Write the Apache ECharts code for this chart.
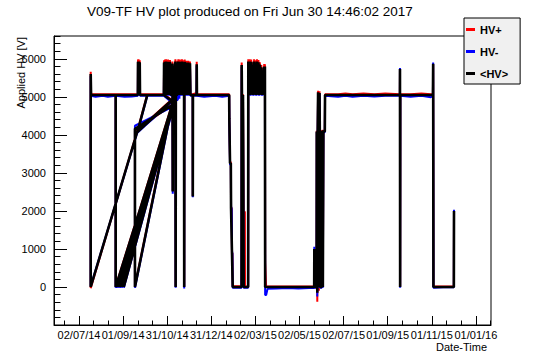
<!DOCTYPE html>
<html>
<head>
<meta charset="utf-8">
<script src="https://cdn.jsdelivr.net/npm/echarts@6/dist/echarts.min.js"></script>
<style>
html,body{margin:0;padding:0;background:#fff;}
#chart{width:546px;height:362px;}
</style>
</head>
<body>
<div id="chart"></div>
<script>
// ---- text ----
const titleText = 'V09-TF HV plot produced on Fri Jun 30 14:46:02 2017';
const xAxisTitle = 'Date-Time';
const yAxisTitle = 'Applied HV [V]';
const seriesNames = ['HV+', 'HV-', '<HV>'];

// ---- time of each sample, in days since 2014-01-01 00:00 UTC (recording order, not sorted) ----
const timeDays = [
  233.0, 245.0, 255.0, 263.4, 263.6, 264.0, 264.4, 264.8, 265.2, 265.6,
  266.0, 266.4, 299.0, 276.5, 262.8, 314.7, 262.6, 314.4, 262.4, 198.3,
  198.3, 198.8, 205.0, 215.0, 222.0, 232.8, 232.8, 314.7, 233.6, 314.0,
  236.3, 313.4, 238.6, 312.9, 241.0, 313.5, 244.0, 312.5, 259.4, 259.4,
  311.6, 299.3, 299.6, 300.2, 300.9, 301.6, 302.3, 303.0, 303.7, 304.4,
  305.1, 305.8, 306.5, 307.2, 307.8, 308.4, 310.8, 311.2, 311.6, 311.9,
  315.3, 315.6, 315.9, 317.9, 318.3, 318.8, 319.3, 319.8, 320.3, 320.8,
  321.3, 321.8, 322.3, 322.8, 323.3, 323.8, 324.3, 324.8, 325.3, 325.8,
  326.3, 326.8, 327.2, 327.4, 327.6, 328.1, 328.6, 329.1, 329.6, 330.1,
  330.6, 331.1, 331.6, 332.1, 332.6, 333.1, 333.6, 334.2, 334.8, 335.4,
  336.0, 339.2, 339.3, 339.5, 344.5, 344.7, 345.0, 355.0, 370.0, 380.0,
  389.5, 389.7, 390.5, 390.7, 391.8, 392.1, 393.0, 393.4, 394.0, 394.4,
  406.6, 406.8, 407.6, 408.6, 409.3, 409.5, 411.2, 411.4, 415.7, 415.9,
  416.9, 417.9, 418.9, 419.9, 420.9, 421.9, 422.9, 423.9, 424.9, 425.9,
  426.9, 427.9, 428.9, 429.9, 430.9, 431.9, 432.9, 433.9, 434.9, 435.9,
  436.9, 437.9, 438.6, 438.9, 439.2, 440.6, 442.5, 455.0, 470.0, 485.0,
  500.0, 506.9, 507.1, 507.3, 510.3, 510.5, 511.2, 511.8, 512.3, 512.8,
  513.4, 513.9, 514.3, 514.7, 515.2, 517.4, 517.6, 518.7, 518.9, 519.4,
  519.6, 521.6, 521.9, 540.0, 550.0, 560.0, 575.0, 590.0, 605.0, 625.3,
  625.4, 625.6, 625.8, 640.0, 655.0, 668.0, 670.9, 671.2, 671.6, 685.0,
  699.8, 700.0
];

// ---- <HV> (black) ----
const hvAvg = [
  5050, 5050, 5050, 5050, 5920, 5060, 5930, 5050, 5900, 5060,
  5910, 5050, 5050, 5050, 4080, 4966, 4095, 4985, 4070, 0,
  5600, 5050, 5050, 5050, 5050, 5050, 0, 4970, 0, 4990,
  0, 4930, 0, 4880, 0, 4850, 0, 4800, 4160, 0,
  4880, 5050, 5900, 5060, 5920, 5050, 5930, 5060, 5910, 5050,
  5920, 5060, 5900, 5050, 5920, 5060, 5050, 5880, 2510, 5050,
  5930, 0, 5050, 5050, 5900, 5060, 5930, 5050, 5880, 5060,
  5920, 5050, 5900, 5060, 5850, 5050, 5930, 5060, 5900, 5050,
  5880, 5060, 5900, 0, 5060, 5920, 5050, 5900, 5060, 5870,
  5050, 5900, 5060, 5880, 5050, 5900, 5060, 5850, 5050, 5880,
  5050, 5050, 2380, 5050, 5050, 5860, 5050, 5050, 5050, 5050,
  5050, 4440, 4440, 3255, 3255, 2070, 2070, 887, 887, 0,
  0, 5840, 4050, 5050, 5050, 0, 0, 0, 0, 5930,
  5060, 5930, 5050, 5920, 5060, 5840, 5050, 5930, 5060, 5900,
  5050, 5930, 5060, 5910, 5050, 5850, 5060, 5780, 5050, 5700,
  5060, 5800, 5050, 5800, 0, 0, 0, 0, 0, 0,
  0, 0, 1000, 0, 0, 4090, -150, 4090, 5120, 4090,
  0, 4090, 5100, 4090, 0, 0, 4090, 4090, 0, 0,
  4090, 4090, 5050, 5050, 5050, 5050, 5050, 5050, 5050, 5050,
  5730, 0, 5050, 5050, 5050, 5050, 5050, 5870, 0, 0,
  0, 2000
];

// ---- HV+ (red) ----
const hvPlus = [
  5070, 5070, 5070, 5070, 5980, 5080, 5990, 5070, 5950, 5080,
  5960, 5070, 5070, 5070, 4100, 4990, 4110, 5000, 4090, -30,
  5660, 5070, 5070, 5070, 5070, 5070, 20, 4990, 20, 5010,
  20, 4950, 20, 4900, 20, 4870, 20, 4820, 4100, 20,
  4900, 5070, 5960, 5080, 5980, 5070, 5990, 5080, 5960, 5070,
  5980, 5080, 5960, 5070, 5970, 5080, 5070, 5930, 2540, 5070,
  5990, 20, 5070, 5070, 5950, 5080, 5990, 5070, 5940, 5080,
  5980, 5070, 5960, 5080, 5900, 5070, 5990, 5080, 5960, 5070,
  5940, 5080, 5960, 20, 5080, 5980, 5070, 5950, 5080, 5920,
  5070, 5950, 5080, 5940, 5070, 5950, 5080, 5910, 5070, 5930,
  5070, 5070, 2400, 5070, 5100, 5920, 5070, 5070, 5070, 5070,
  5070, 4460, 4460, 3300, 3280, 2040, 2090, 860, 900, 20,
  20, 5900, 4070, 5070, 5070, 1980, 1980, 0, 20, 5990,
  5080, 5990, 5070, 5980, 5080, 5900, 5070, 5990, 5080, 5960,
  5070, 5990, 5080, 5970, 5070, 5910, 5080, 5840, 5070, 5760,
  5080, 5860, 5070, 5860, 660, 0, 10, 10, 10, 10,
  10, 10, 1000, 10, 10, 4110, -390, 4110, 5160, 4110,
  -100, 4110, 5150, 4110, 20, 20, 4110, 4110, 20, 20,
  4110, 4110, 5070, 5070, 5090, 5070, 5090, 5070, 5090, 5070,
  5700, 20, 5070, 5070, 5090, 5070, 5070, 5850, 20, 10,
  10, 2000
];

// ---- HV- (blue) ----
const hvMinus = [
  5030, 5000, 5010, 5030, 5870, 5040, 5880, 5030, 5860, 5040,
  5860, 5030, 5030, 5030, 4060, 4940, 4080, 4960, 4050, 20,
  5550, 5030, 5000, 5030, 5000, 5030, -20, 4930, -20, 4940,
  -20, 4870, -20, 4820, -20, 4800, -20, 4750, 4240, -20,
  4830, 5030, 5850, 5040, 5870, 5030, 5880, 5040, 5860, 5030,
  5870, 5040, 5850, 5030, 5870, 5040, 5030, 5620, 2450, 5030,
  5880, -20, 4950, 4900, 5850, 4920, 5880, 4950, 5830, 4950,
  5870, 5030, 5850, 5040, 5620, 5030, 5880, 5040, 5850, 5030,
  5830, 5040, 5850, -40, 5040, 5870, 5030, 5850, 5040, 5820,
  5030, 5620, 5040, 5830, 5030, 5850, 5040, 5800, 5030, 5830,
  5030, 5030, 2360, 5030, 5030, 5820, 5030, 5000, 5030, 5000,
  5030, 4420, 4420, 3210, 3230, 2120, 2050, 950, 870, -20,
  -20, 5790, 4030, 5030, 5030, -20, -20, -20, -20, 5880,
  5040, 5880, 5030, 5870, 5040, 5790, 5030, 5880, 5040, 5850,
  5030, 5880, 5040, 5860, 5030, 5800, 5040, 5730, 5030, 5650,
  5040, 5750, 5030, 5750, -210, -210, -50, -40, -30, -40,
  -30, -30, 1060, -20, -20, 4070, -250, 4070, 5100, 4070,
  -20, 4070, 5080, 4070, -20, -20, 4070, 4070, -20, -20,
  4070, 4070, 5030, 5000, 5030, 5000, 5030, 5010, 5030, 5030,
  5760, -20, 5030, 5000, 5030, 4990, 5030, 5900, -20, -10,
  -10, 2030
];

// ---- axes ----
const xRange = [147.6, 751.1];            // days since 2014-01-01
const xMajorTicks = [182.15, 243.05, 303.95, 364.85, 425.75, 486.65, 547.55, 608.45, 669.35, 730.25];
const yRange = [-1000, 6600];
const yMajorTicks = [-1000, 0, 1000, 2000, 3000, 4000, 5000, 6000];
const yLabelValues = [0, 1000, 2000, 3000, 4000, 5000, 6000];

// minor ticks (ROOT style: 3 divisions on time axis, 5 on the value axis)
const xStep = (xMajorTicks[1] - xMajorTicks[0]) / 3;
const xMinorTicks = [];
for (let v = xMajorTicks[0] - xStep; v <= xRange[1] + 1e-6; v += xStep) {
  if (v >= xRange[0]) xMinorTicks.push(+v.toFixed(3));
}
const yMinorTicks = [];
for (let v = -1000; v <= 6600; v += 200) yMinorTicks.push(v);

const EPOCH = Date.UTC(2014, 0, 1);
function fmtDate(v) {
  const d = new Date(EPOCH + v * 86400000);
  const p = n => String(n).padStart(2, '0');
  return p(d.getUTCDate()) + '/' + p(d.getUTCMonth() + 1) + '/' + p(d.getUTCFullYear() % 100);
}
function zip(vals) { return timeDays.map((t, i) => [t, vals[i]]); }

const FONT = 'Liberation Sans, Arial, Helvetica, sans-serif';
const chart = echarts.init(document.getElementById('chart'), null, { renderer: 'svg' });

const grid = { left: 54, top: 36, width: 437, height: 289 };

const option = {
  animation: false,
  backgroundColor: '#fff',
  title: {
    text: titleText, left: 87, top: 4, padding: 0,
    textStyle: { fontFamily: FONT, fontSize: 13.5, fontWeight: 'normal', color: '#000' }
  },
  legend: {
    orient: 'vertical', left: 464, top: 18,
    itemWidth: 9, itemHeight: 3, itemGap: 11,
    padding: [6, 12, 5, 2],
    backgroundColor: '#f0f0f0', borderColor: '#000', borderWidth: 1, borderRadius: 0,
    icon: 'rect',
    textStyle: { fontFamily: FONT, fontSize: 11, fontWeight: 'bold', color: '#000' },
    data: seriesNames
  },
  grid: Object.assign({ show: true, borderColor: '#000', borderWidth: 1, backgroundColor: 'transparent', containLabel: false }, grid),
  xAxis: [
    {
      type: 'value', min: xRange[0], max: xRange[1], position: 'bottom',
      axisLine: { onZero: false, lineStyle: { color: '#000', width: 1 } },
      axisTick: { inside: true, length: 9, customValues: xMajorTicks, lineStyle: { color: '#000', width: 1 } },
      axisLabel: { customValues: xMajorTicks, formatter: fmtDate, color: '#000', fontFamily: FONT, fontSize: 11, margin: 4 },
      splitLine: { show: false }
    },
    {
      type: 'value', min: xRange[0], max: xRange[1], position: 'bottom',
      axisLine: { show: false, onZero: false },
      axisTick: { inside: true, length: 4.5, customValues: xMinorTicks, lineStyle: { color: '#000', width: 1 } },
      axisLabel: { show: false },
      splitLine: { show: false }
    }
  ],
  yAxis: [
    {
      type: 'value', min: yRange[0], max: yRange[1], position: 'left',
      axisLine: { show: true, onZero: false, lineStyle: { color: '#000', width: 1 } },
      axisTick: { show: true, inside: true, length: 13, customValues: yMajorTicks, lineStyle: { color: '#000', width: 1 } },
      axisLabel: { customValues: yLabelValues, formatter: v => String(Math.round(v)), color: '#000', fontFamily: FONT, fontSize: 11, margin: 8 },
      splitLine: { show: false }
    },
    {
      type: 'value', min: yRange[0], max: yRange[1], position: 'left',
      axisLine: { show: false, onZero: false },
      axisTick: { show: true, inside: true, length: 6.5, customValues: yMinorTicks, lineStyle: { color: '#000', width: 1 } },
      axisLabel: { show: false },
      splitLine: { show: false }
    }
  ],
  graphic: [
    {
      type: 'text', x: 487, y: 347,
      style: { text: xAxisTitle, fontFamily: FONT, fontSize: 11, fill: '#000', align: 'right', verticalAlign: 'middle' }
    },
    {
      type: 'text', x: 21, y: 37, rotation: Math.PI / 2,
      style: { text: yAxisTitle, fontFamily: FONT, fontSize: 11, fill: '#000', align: 'right', verticalAlign: 'middle' }
    }
  ],
  series: [
    {
      type: 'line', name: seriesNames[0], data: zip(hvPlus), xAxisIndex: 0, yAxisIndex: 0,
      showSymbol: false, symbol: 'none', color: '#ff0000',
      lineStyle: { color: '#ff0000', width: 2, join: 'bevel' }, silent: true, emphasis: { disabled: true }, z: 2
    },
    {
      type: 'line', name: seriesNames[1], data: zip(hvMinus), xAxisIndex: 0, yAxisIndex: 0,
      showSymbol: false, symbol: 'none', color: '#0000ff',
      lineStyle: { color: '#0000ff', width: 2, join: 'bevel' }, silent: true, emphasis: { disabled: true }, z: 3
    },
    {
      type: 'line', name: seriesNames[2], data: zip(hvAvg), xAxisIndex: 0, yAxisIndex: 0,
      showSymbol: false, symbol: 'none', color: '#000000',
      lineStyle: { color: '#000000', width: 2.6, join: 'bevel' }, silent: true, emphasis: { disabled: true }, z: 4
    }
  ]
};
chart.setOption(option);
</script>
</body>
</html>
